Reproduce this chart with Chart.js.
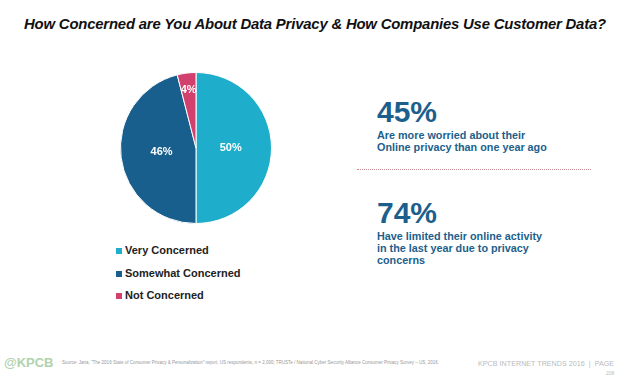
<!DOCTYPE html>
<html>
<head>
<meta charset="utf-8">
<script src="https://cdn.jsdelivr.net/npm/chart.js@4"></script>
<style>
  html, body { margin:0; padding:0; background:#fff; width:630px; height:380px; overflow:hidden; font-family:"Liberation Sans", Arial, sans-serif; }
  #title { position:absolute; left:0; top:16px; width:630px; text-align:center; font-size:14.9px; font-weight:bold; font-style:italic; color:#111; letter-spacing:-0.2px; }
  #pieWrap { position:absolute; left:120px; top:72px; width:152px; height:152px; }
  #legend { position:absolute; left:116px; top:244px; }
  .li { position:relative; height:22.5px; font-size:11px; font-weight:bold; color:#222; }
  .sw { position:absolute; left:0; top:4px; width:6px; height:6px; }
  .lt { position:absolute; left:9px; top:0; white-space:nowrap; }
  .big { position:absolute; font-size:30px; font-weight:bold; color:#1d5f8c; letter-spacing:0px; line-height:25px; height:25px; }
  .sub { position:absolute; font-size:10.8px; font-weight:bold; color:#1d5f8c; line-height:12.1px; }
  #dots { position:absolute; left:357px; top:169px; width:234px; border-top:1px dotted #c88c96; }
  #foot { position:absolute; left:62px; top:360px; font-size:4.5px; color:#999; white-space:nowrap; }
  #kp { position:absolute; left:478px; top:359px; font-size:7.2px; color:#bbb; white-space:nowrap; }
  #pg { position:absolute; left:606px; top:370px; font-size:5px; color:#bbb; }
  #wm { position:absolute; left:4px; top:355px; font-size:13px; font-weight:bold; color:#9ec79a; opacity:0.8; }
</style>
</head>
<body>
<div id="title">How Concerned are You About Data Privacy &amp; How Companies Use Customer Data?</div>
<div id="pieWrap"><canvas id="c"></canvas></div>
<div id="legend"></div>
<div class="big" style="left:377px;top:99px;">45%</div>
<div class="sub" style="left:377px;top:129px;">Are more worried about their<br>Online privacy than one year ago</div>
<div id="dots"></div>
<div class="big" style="left:377px;top:200px;">74%</div>
<div class="sub" style="left:377px;top:230px;">Have limited their online activity<br>in the last year due to privacy<br>concerns</div>
<div id="foot">Source: Jana, "The 2016 State of Consumer Privacy &amp; Personalization" report, US respondents, n = 2,000; TRUSTe / National Cyber Security Alliance Consumer Privacy Survey – US, 2016.</div>
<div id="wm">@KPCB</div>
<div id="kp">KPCB INTERNET TRENDS 2016 &nbsp;|&nbsp; PAGE</div>
<div id="pg">208</div>
<script>
const categories = ["Very Concerned", "Somewhat Concerned", "Not Concerned"];
const values = [50, 46, 4];
const colors = ["#1eadcb", "#195f8e", "#d2406d"];

const leg = document.getElementById('legend');
categories.forEach((c, i) => {
  const d = document.createElement('div'); d.className = 'li';
  d.innerHTML = '<span class="sw" style="background:' + colors[i] + '"></span><span class="lt">' + c + '</span>';
  leg.appendChild(d);
});

const labelPlugin = {
  id: 'sliceLabels',
  afterDatasetsDraw(chart) {
    const ctx = chart.ctx;
    const meta = chart.getDatasetMeta(0);
    ctx.save();
    ctx.font = 'bold 11px "Liberation Sans", Arial, sans-serif';
    ctx.fillStyle = '#fff';
    ctx.textAlign = 'center';
    ctx.textBaseline = 'middle';
    meta.data.forEach((arc, i) => {
      const p = arc.getProps(['x','y','startAngle','endAngle','outerRadius'], true);
      const mid = (p.startAngle + p.endAngle) / 2;
      const f = values[i] < 10 ? 0.78 : 0.46;
      const r = p.outerRadius * f;
      ctx.fillText(values[i] + '%', p.x + Math.cos(mid) * r, p.y + Math.sin(mid) * r);
    });
    ctx.restore();
  }
};

new Chart(document.getElementById('c'), {
  type: 'pie',
  data: { labels: categories, datasets: [{ data: values, backgroundColor: colors, borderColor: '#fff', borderWidth: 1 }] },
  options: {
    responsive: true, maintainAspectRatio: false, animation: false,
    plugins: { legend: { display: false }, tooltip: { enabled: false } },
    layout: { padding: 0 }
  },
  plugins: [labelPlugin]
});
</script>
</body>
</html>
